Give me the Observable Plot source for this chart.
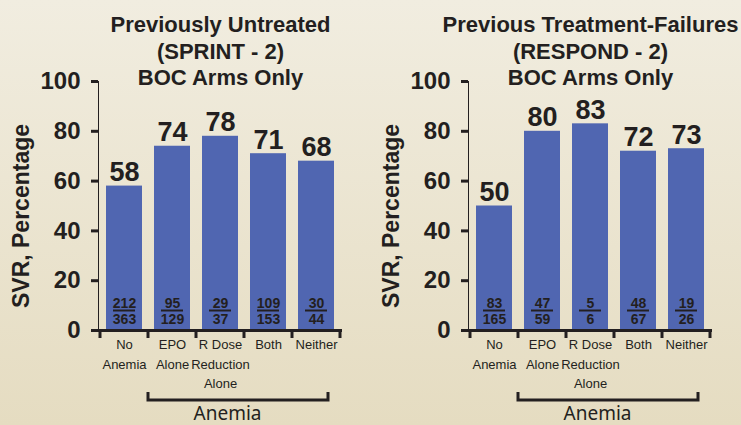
<!DOCTYPE html>
<html>
<head>
<meta charset="utf-8">
<script src="https://cdn.jsdelivr.net/npm/d3@7"></script>
<script src="https://cdn.jsdelivr.net/npm/@observablehq/plot@0.6"></script>
<style>
  html, body { margin: 0; padding: 0; }
  body {
    width: 741px; height: 425px; overflow: hidden;
    background: linear-gradient(#f1ede0, #e5dcc1);
  }
  #wrap { position: relative; width: 741px; height: 425px; }
  .panel { position: absolute; top: 0; }
  .panel svg g[aria-label^="y-axis"] path,
  .panel svg g[aria-label^="y-axis"] line { stroke-width: 3px; }
</style>
</head>
<body>
<div id="wrap"></div>
<script>
// Treatment groups shown along the x axis
const categories = ["No Anemia", "EPO Alone", "R Dose Reduction Alone", "Both", "Neither"];
const categoryLabels = ["No\nAnemia", "EPO\nAlone", "R Dose\nReduction\nAlone", "Both", "Neither"];

// SPRINT-2: previously untreated patients, BOC arms
const sprintTitle = ["Previously Untreated", "(SPRINT - 2)", "BOC Arms Only"];
const sprintSVR = [58, 74, 78, 71, 68];
const sprintResponders = [212, 95, 29, 109, 30];
const sprintPatients = [363, 129, 37, 153, 44];

// RESPOND-2: previous treatment failures, BOC arms
const respondTitle = ["Previous Treatment-Failures", "(RESPOND - 2)", "BOC Arms Only"];
const respondSVR = [50, 80, 83, 72, 73];
const respondResponders = [83, 47, 5, 48, 19];
const respondPatients = [165, 59, 6, 67, 26];

const yTicks = [0, 20, 40, 60, 80, 100];
const yLabel = "SVR, Percentage";
const groupLabel = "Anemia";
const anemiaGroups = categories.slice(1);

const ink = "#231f20";
const barFill = "#5066b1";
const boldFont = "'Liberation Sans', Arial, sans-serif";
const labelFont = "'Noto Sans', 'Open Sans', sans-serif";

// Axis baseline ticks at the band edges, plus the bracket grouping the anemia categories
function bandFrame(index, scales) {
  const x = scales.x, y = scales.y;
  const bw = x.bandwidth(), gap = x.step() - bw;
  const y0 = y(0);
  const edges = categories.map(c => x(c) - gap / 2).concat([x(categories[categories.length - 1]) + bw + gap / 2]);
  const g = d3.create("svg:g").attr("stroke", ink).attr("fill", "none").attr("stroke-width", 3);
  g.selectAll("line").data(edges).join("line")
    .attr("x1", d => d).attr("x2", d => d)
    .attr("y1", y0).attr("y2", y0 + 8);
  const left = x(anemiaGroups[0]) - gap / 2;
  const right = x(anemiaGroups[anemiaGroups.length - 1]) + bw - gap / 2;
  const by = y0 + 70;
  g.append("path")
    .attr("stroke-linejoin", "miter")
    .attr("d", `M${left},${by - 8}V${by}H${right}V${by - 8}`);
  return g.node();
}

function panel(title, svr, responders, patients) {
  const rows = categories.map((c, i) => ({
    category: c,
    label: categoryLabels[i],
    svr: svr[i],
    responders: responders[i],
    patients: patients[i]
  }));
  return Plot.plot({
    width: 370,
    height: 425,
    marginLeft: 98,
    marginRight: 28,
    marginTop: 81,
    marginBottom: 95,
    style: {
      background: "transparent",
      overflow: "visible",
      color: ink,
      fontFamily: boldFont,
      fontSize: "24px",
      fontWeight: "bold"
    },
    x: {domain: categories, axis: null, paddingInner: 0.25, paddingOuter: 0.125},
    y: {domain: [0, 100], ticks: yTicks, tickSize: 7, tickPadding: 11, label: null, line: true, tickFormat: d => String(d)},
    marks: [
      Plot.barY(rows, {x: "category", y: "svr", fill: barFill}),
      Plot.ruleY([0], {stroke: ink, strokeWidth: 3}),
      bandFrame,
      // SVR value above each bar
      Plot.text(rows, {x: "category", y: "svr", text: d => String(d.svr), lineAnchor: "bottom", dy: -5,
        fontSize: 27, fontWeight: "bold", fill: ink}),
      // responders / patients fraction inside each bar
      Plot.text(rows, {x: "category", y: () => 0, text: d => String(d.responders), dy: -27,
        fontSize: 14, fontWeight: "bold", fill: ink}),
      Plot.tickY(rows, {x: "category", y: () => 0, dy: -20, insetLeft: 7, insetRight: 7, stroke: ink, strokeWidth: 2}),
      Plot.text(rows, {x: "category", y: () => 0, text: d => String(d.patients), dy: -11,
        fontSize: 14, fontWeight: "bold", fill: ink}),
      // category names below the axis
      Plot.text(rows, {x: "category", y: () => 0, text: "label", lineAnchor: "top", dy: 5, lineHeight: 1.5,
        fontSize: 13, fontWeight: "normal", fill: ink}),
      Plot.text([groupLabel], {x: () => categories[2], y: () => 0, text: d => d, lineAnchor: "bottom", dx: 7, dy: 89,
        fontSize: 19, fontWeight: "normal", fontFamily: labelFont, fill: ink}),
      // y axis title
      Plot.text([yLabel], {frameAnchor: "left", text: d => d, rotate: -90, textAnchor: "middle", dx: -77, dy: 10,
        fontSize: 23, fontWeight: "bold", fill: ink}),
      // panel title
      Plot.text([title.join("\n")], {frameAnchor: "top", text: d => d, lineAnchor: "top", dy: -68, lineHeight: 1.2,
        fontSize: 22, fontWeight: "bold", fill: ink})
    ]
  });
}

const wrap = document.getElementById("wrap");
[[sprintTitle, sprintSVR, sprintResponders, sprintPatients, 0],
 [respondTitle, respondSVR, respondResponders, respondPatients, 370]].forEach(([t, s, r, p, left]) => {
  const div = document.createElement("div");
  div.className = "panel";
  div.style.left = left + "px";
  div.appendChild(panel(t, s, r, p));
  wrap.appendChild(div);
});
</script>
</body>
</html>
